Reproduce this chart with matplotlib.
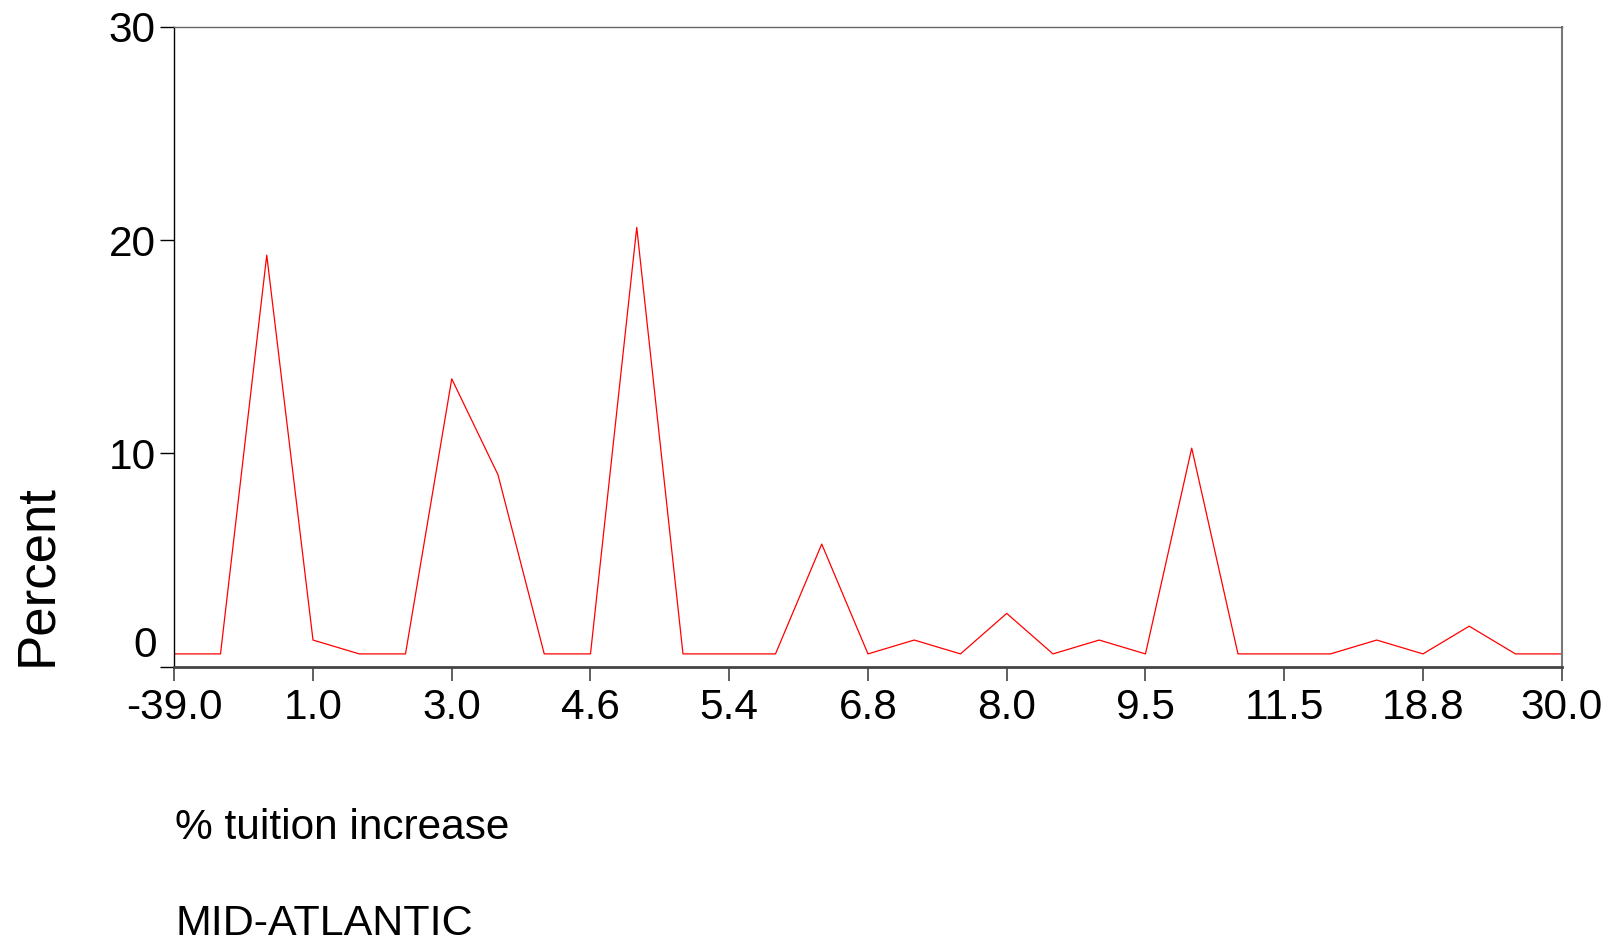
import matplotlib.pyplot as plt
from matplotlib.transforms import offset_copy

plt.rcParams['font.family'] = ['Liberation Sans', 'DejaVu Sans']

# Percent of schools in each tuition-increase bin (31 bins, every 3rd labelled)
percent = [0.6, 0.6, 19.3, 1.25, 0.6, 0.6, 13.5, 9.0, 0.6, 0.6,
           20.6, 0.6, 0.6, 0.6, 5.75, 0.6, 1.25, 0.6, 2.5, 0.6,
           1.25, 0.6, 10.25, 0.6, 0.6, 0.6, 1.25, 0.6, 1.9, 0.6, 0.6]
tick_labels = ["-39.0", "1.0", "3.0", "4.6", "5.4", "6.8",
               "8.0", "9.5", "11.5", "18.8", "30.0"]
y_ticks = [0, 10, 20, 30]

fig = plt.figure(figsize=(16.15, 9.43), dpi=100)
ax = fig.add_axes([0.1079, 0.293, 0.967 - 0.1079, 0.9714 - 0.293])

x = list(range(len(percent)))
ax.plot(x, percent, color="red", linewidth=0.9)

ax.set_xlim(0, len(percent) - 1)
ax.set_ylim(0, 30)

ax.set_xticks(x[::3])
ax.set_xticklabels(tick_labels, fontsize=30.5)
ax.set_yticks(y_ticks)
ax.set_yticklabels([""] + [str(v) for v in y_ticks[1:]], fontsize=30.5)

# bottom "0" label sits a bit above its tick, like the original
tr = offset_copy(ax.get_yaxis_transform(), fig=fig, x=-17, y=21, units="dots")
ax.text(0, 0, "0", transform=tr, fontsize=30.5, ha="right", va="center")

ax.tick_params(axis="x", direction="out", length=10, width=1.2, color="#444444", pad=5)
ax.tick_params(axis="y", direction="out", length=10, width=1, color="black", pad=3.5)

ax.spines["left"].set_color("black")
ax.spines["left"].set_linewidth(1)
ax.spines["bottom"].set_color("#444444")
ax.spines["bottom"].set_linewidth(2)
ax.spines["top"].set_color("#666666")
ax.spines["top"].set_linewidth(1)
ax.spines["right"].set_color("#777777")
ax.spines["right"].set_linewidth(1.5)

fig.text(0.023, 0.39, "Percent", rotation=90, fontsize=38, ha="center", va="center")
fig.text(0.1084, 0.110, "% tuition increase", fontsize=30.5, ha="left", va="baseline")
fig.text(0.1084, 0.0085, "MID-ATLANTIC", fontsize=31, ha="left", va="baseline")

fig.savefig("out.png", dpi=100, facecolor="white")
